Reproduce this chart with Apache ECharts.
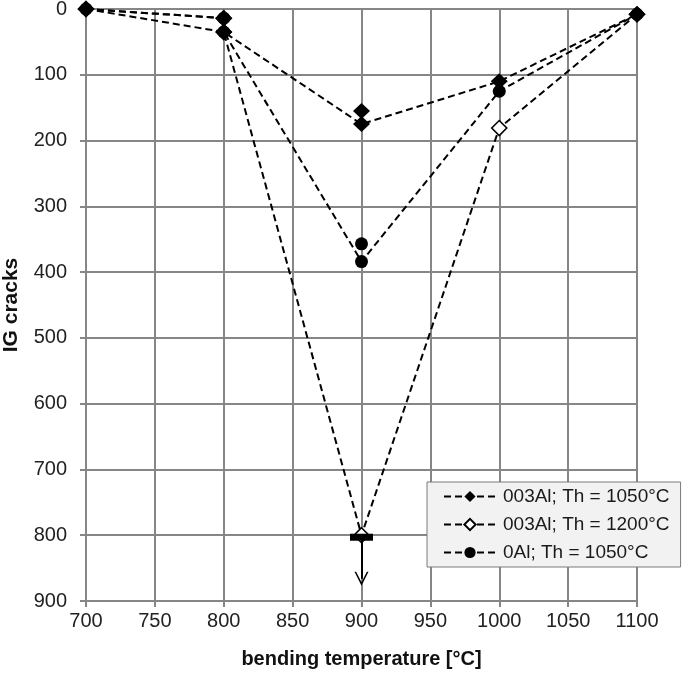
<!DOCTYPE html>
<html>
<head>
<meta charset="utf-8">
<script src="https://cdn.jsdelivr.net/npm/echarts@6/dist/echarts.min.js"></script>
<style>
  html, body { margin: 0; padding: 0; background: #fff; }
  #chart { width: 685px; height: 675px; }
</style>
</head>
<body>
<div id="chart"></div>
<script>
// ticks
var tempTicks = [700, 750, 800, 850, 900, 950, 1000, 1050, 1100]
var crackTicks = [0, 100, 200, 300, 400, 500, 600, 700, 800, 900]

// series: [bending temperature, IG cracks]
var names = ['003Al; Th = 1050°C', '003Al; Th = 1200°C', '0Al; Th = 1050°C']
var al003Th1050 = [[700, 0], [800, 35], [900, 175], [1000, 110], [1100, 8]]
var al003Th1200 = [[700, 0], [800, 14], [800, 35], [900, 800], [1000, 181], [1100, 8]]
var al0Th1050 = [[700, 0], [800, 14], [800, 35], [900, 384], [1000, 125], [1100, 8]]
// repeated measurements, markers only
var al003Th1050Repeat = [[800, 14], [900, 155]]
var al0Th1050Repeat = [[900, 357]]
// lower bound marker (>= 800 cracks)
var boundPoint = [900, 800]
var boundArrowEnd = [900, 866]

var myChart = echarts.init(document.getElementById('chart'))

var font = 'Arial, "Liberation Sans", sans-serif'
var gridColor = '#868686'
var dash = { color: '#000', width: 2, type: [7, 4] }

var option = {
	animation: false,
	textStyle: { fontFamily: font },
	grid: { left: 86, right: 48, top: 9, bottom: 74, containLabel: false, outerBoundsMode: 'none' },
	legend: {
		orient: 'vertical',
		left: 427,
		top: 482,
		data: names,
		itemWidth: 52,
		itemHeight: 14,
		itemGap: 9,
		padding: [5, 11, 5, 16],
		backgroundColor: '#f2f2f2',
		borderColor: '#7a7a7a',
		borderWidth: 1,
		borderRadius: 0,
		textStyle: { fontSize: 19, color: '#1a1a1a', fontFamily: font, padding: [0, 0, 0, 2] }
	},
	xAxis: {
		type: 'value',
		min: tempTicks[0],
		max: tempTicks[tempTicks.length - 1],
		interval: 50,
		name: 'bending temperature [°C]',
		nameLocation: 'middle',
		nameGap: 48,
		nameTextStyle: { fontSize: 20, fontWeight: 'bold', color: '#111' },
		axisLine: { onZero: false, lineStyle: { color: gridColor, width: 2 } },
		axisTick: { show: true, length: 6, lineStyle: { color: gridColor, width: 2 } },
		axisLabel: { fontSize: 20, color: '#222', margin: 10, formatter: function (v) { return String(v) } },
		splitLine: { lineStyle: { color: gridColor, width: 2 } }
	},
	yAxis: {
		type: 'value',
		inverse: true,
		min: crackTicks[0],
		max: crackTicks[crackTicks.length - 1],
		interval: 100,
		name: 'IG cracks',
		nameLocation: 'middle',
		nameGap: 64,
		nameTextStyle: { fontSize: 21, fontWeight: 'bold', color: '#111' },
		axisLine: { show: true, lineStyle: { color: gridColor, width: 2 } },
		axisTick: { show: true, length: 6, lineStyle: { color: gridColor, width: 2 } },
		axisLabel: { fontSize: 20, color: '#222', margin: 19, formatter: function (v) { return String(v) } },
		splitLine: { lineStyle: { color: gridColor, width: 2 } }
	},
	series: [
		{
			name: names[1],
			type: 'line',
			data: al003Th1200,
			symbol: 'diamond',
			symbolSize: [15, 15],
			itemStyle: { color: '#fff', borderColor: '#000', borderWidth: 1.6 },
			lineStyle: dash,
			markPoint: {
				symbol: 'rect',
				symbolSize: [23, 7],
				symbolOffset: [0, 2],
				itemStyle: { color: '#000', borderWidth: 0 },
				label: { show: false },
				data: [{ coord: boundPoint }]
			},
			markLine: {
				silent: true,
				symbol: ['none', 'path://M0,0 L6,12 L12,0 L10.6,0 L6,9.2 L1.4,0 Z'],
				symbolSize: [14, 14],
				symbolRotate: 0,
				lineStyle: { color: '#000', width: 2, type: 'solid' },
				label: { show: false },
				data: [[{ coord: boundPoint }, { coord: boundArrowEnd }]]
			}
		},
		{
			name: names[2],
			type: 'line',
			data: al0Th1050,
			symbol: 'circle',
			symbolSize: 13,
			itemStyle: { color: '#000' },
			lineStyle: dash
		},
		{
			name: names[0],
			type: 'line',
			data: al003Th1050,
			symbol: 'diamond',
			symbolSize: [17, 16],
			itemStyle: { color: '#000' },
			lineStyle: dash
		},
		{
			name: names[2],
			type: 'scatter',
			data: al0Th1050Repeat,
			symbol: 'circle',
			symbolSize: 13,
			itemStyle: { color: '#000', opacity: 1 }
		},
		{
			name: names[0],
			type: 'scatter',
			data: al003Th1050Repeat,
			symbol: 'diamond',
			symbolSize: [17, 16],
			itemStyle: { color: '#000', opacity: 1 }
		}
	]
}

myChart.setOption(option)
</script>
</body>
</html>
